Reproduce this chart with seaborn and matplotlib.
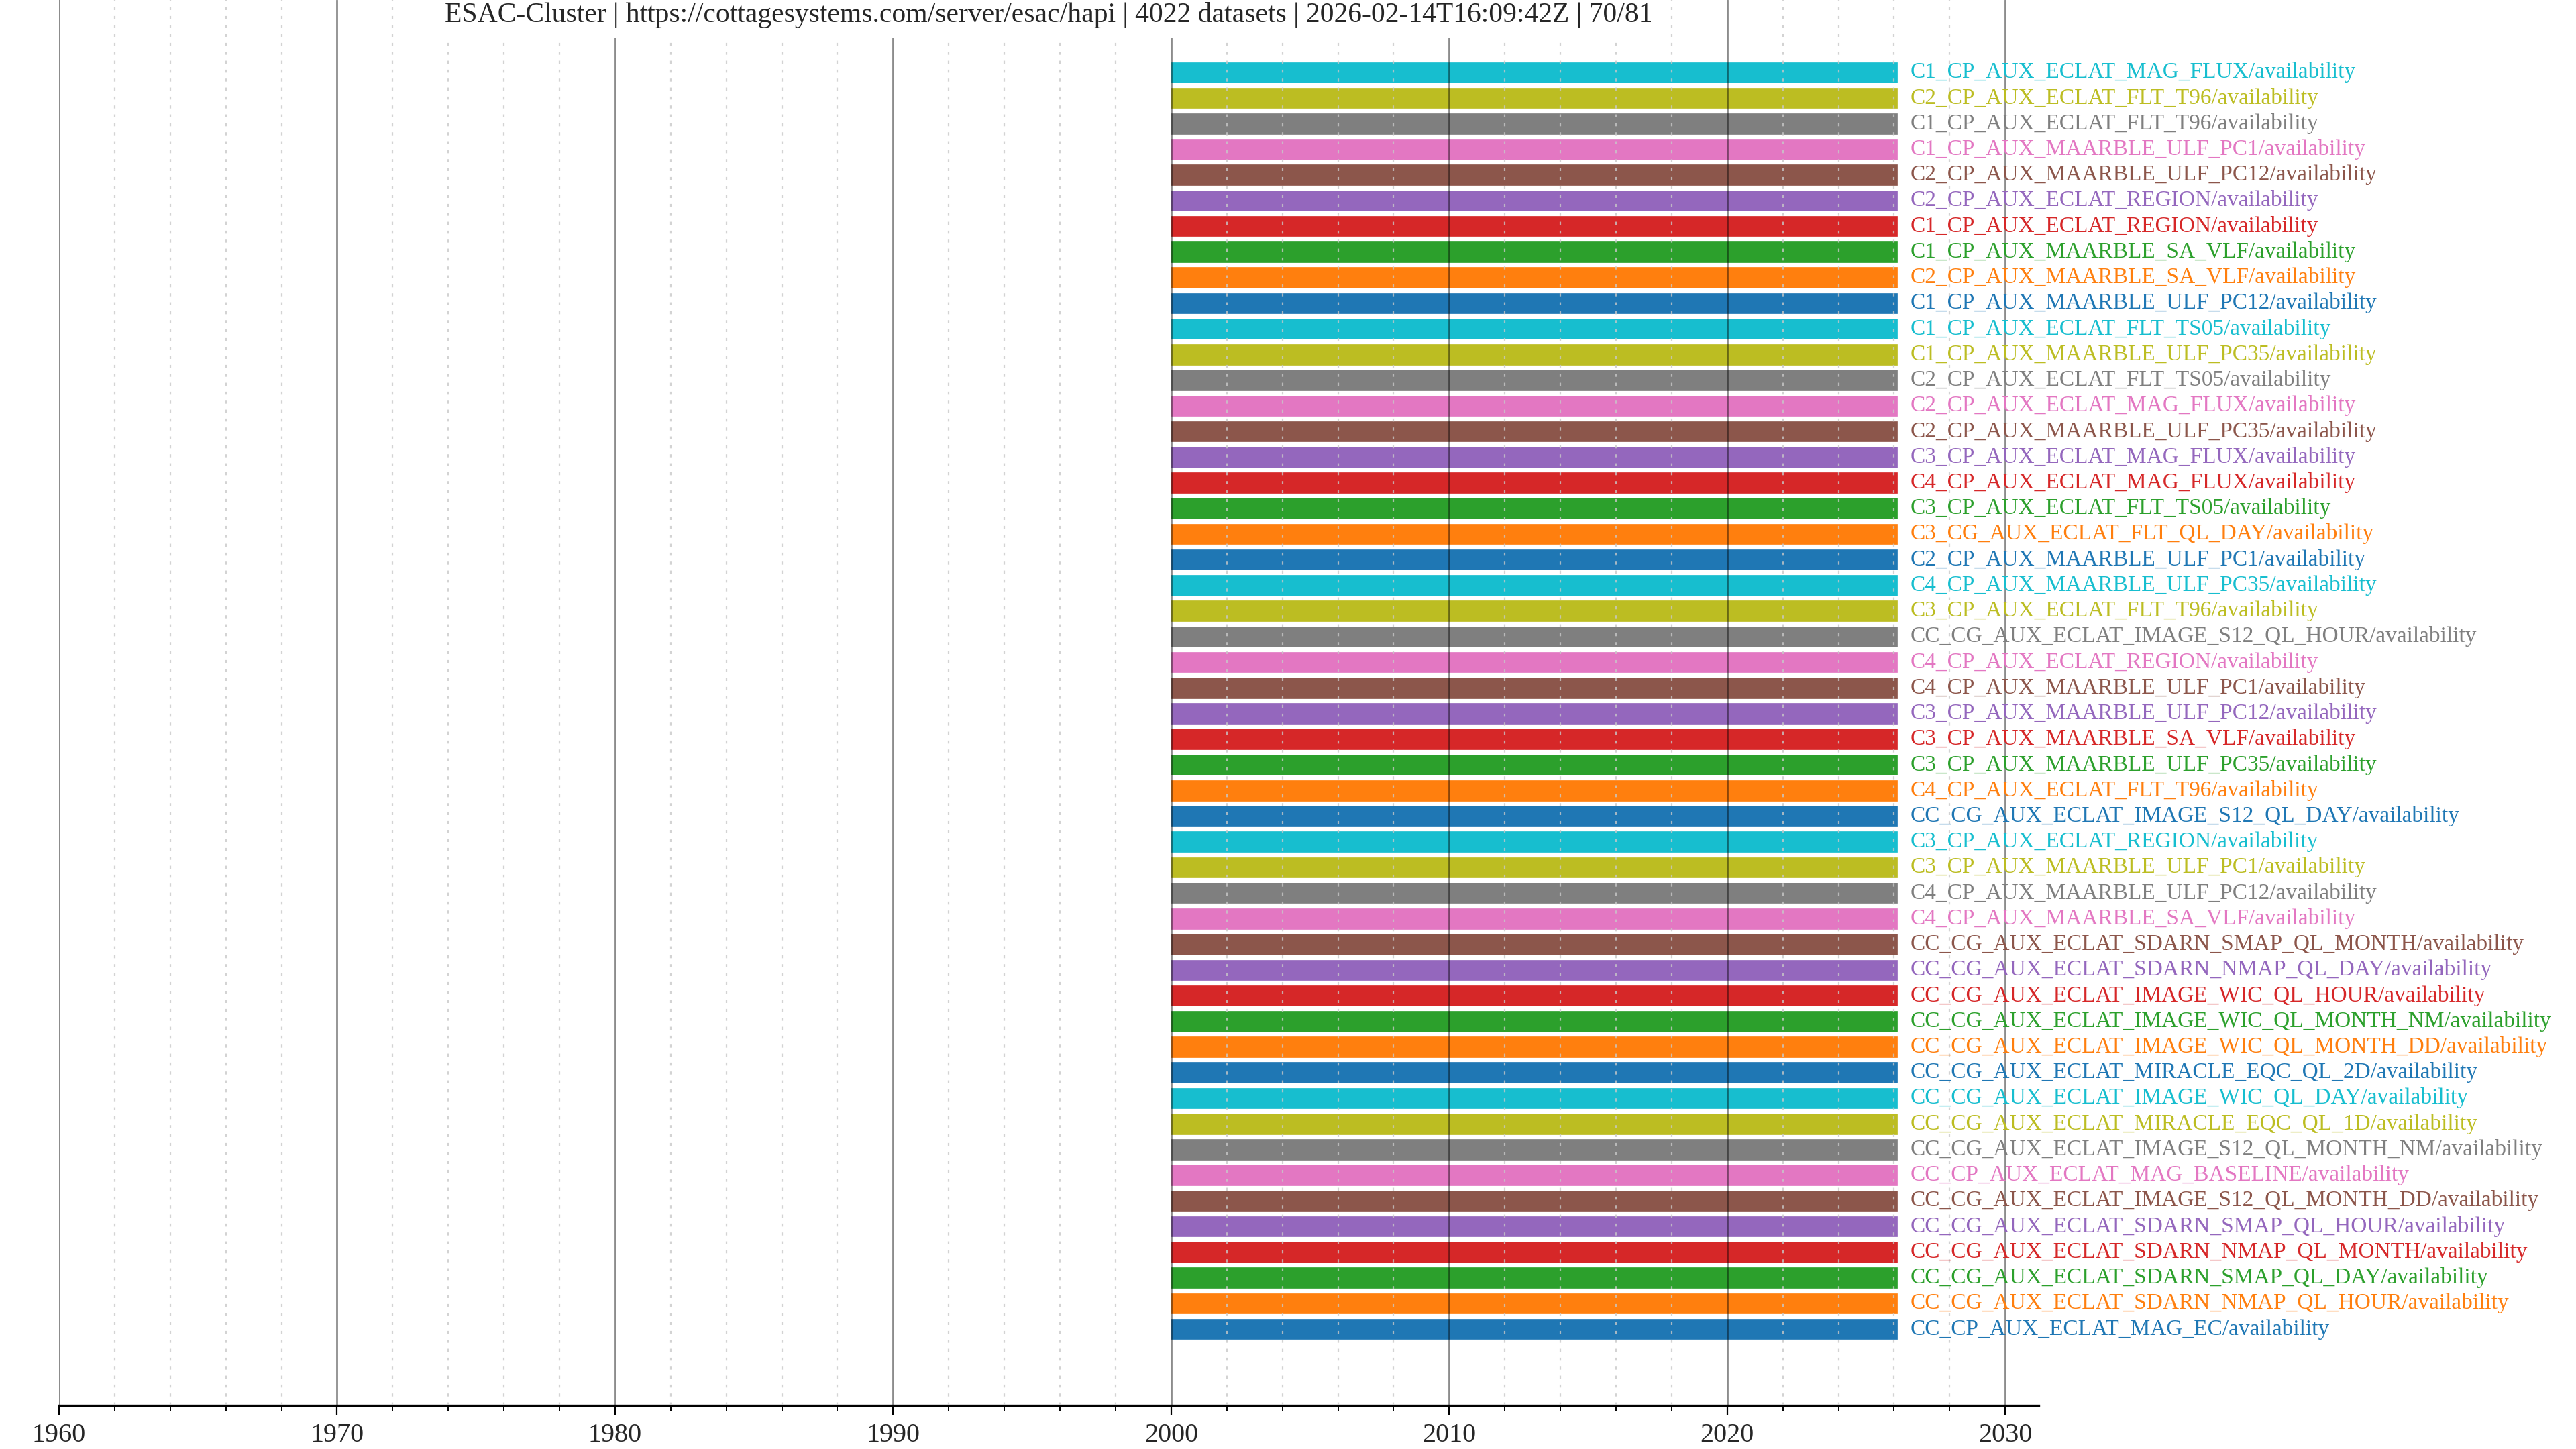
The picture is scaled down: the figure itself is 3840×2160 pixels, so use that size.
import datetime as dt
import matplotlib
matplotlib.use("Agg")
import matplotlib.pyplot as plt
from matplotlib.ticker import MultipleLocator
import seaborn as sns

# datasets, listed from the bottom bar upward (plot order)
datasets = [
    "CC_CP_AUX_ECLAT_MAG_EC",
    "CC_CG_AUX_ECLAT_SDARN_NMAP_QL_HOUR",
    "CC_CG_AUX_ECLAT_SDARN_SMAP_QL_DAY",
    "CC_CG_AUX_ECLAT_SDARN_NMAP_QL_MONTH",
    "CC_CG_AUX_ECLAT_SDARN_SMAP_QL_HOUR",
    "CC_CG_AUX_ECLAT_IMAGE_S12_QL_MONTH_DD",
    "CC_CP_AUX_ECLAT_MAG_BASELINE",
    "CC_CG_AUX_ECLAT_IMAGE_S12_QL_MONTH_NM",
    "CC_CG_AUX_ECLAT_MIRACLE_EQC_QL_1D",
    "CC_CG_AUX_ECLAT_IMAGE_WIC_QL_DAY",
    "CC_CG_AUX_ECLAT_MIRACLE_EQC_QL_2D",
    "CC_CG_AUX_ECLAT_IMAGE_WIC_QL_MONTH_DD",
    "CC_CG_AUX_ECLAT_IMAGE_WIC_QL_MONTH_NM",
    "CC_CG_AUX_ECLAT_IMAGE_WIC_QL_HOUR",
    "CC_CG_AUX_ECLAT_SDARN_NMAP_QL_DAY",
    "CC_CG_AUX_ECLAT_SDARN_SMAP_QL_MONTH",
    "C4_CP_AUX_MAARBLE_SA_VLF",
    "C4_CP_AUX_MAARBLE_ULF_PC12",
    "C3_CP_AUX_MAARBLE_ULF_PC1",
    "C3_CP_AUX_ECLAT_REGION",
    "CC_CG_AUX_ECLAT_IMAGE_S12_QL_DAY",
    "C4_CP_AUX_ECLAT_FLT_T96",
    "C3_CP_AUX_MAARBLE_ULF_PC35",
    "C3_CP_AUX_MAARBLE_SA_VLF",
    "C3_CP_AUX_MAARBLE_ULF_PC12",
    "C4_CP_AUX_MAARBLE_ULF_PC1",
    "C4_CP_AUX_ECLAT_REGION",
    "CC_CG_AUX_ECLAT_IMAGE_S12_QL_HOUR",
    "C3_CP_AUX_ECLAT_FLT_T96",
    "C4_CP_AUX_MAARBLE_ULF_PC35",
    "C2_CP_AUX_MAARBLE_ULF_PC1",
    "C3_CG_AUX_ECLAT_FLT_QL_DAY",
    "C3_CP_AUX_ECLAT_FLT_TS05",
    "C4_CP_AUX_ECLAT_MAG_FLUX",
    "C3_CP_AUX_ECLAT_MAG_FLUX",
    "C2_CP_AUX_MAARBLE_ULF_PC35",
    "C2_CP_AUX_ECLAT_MAG_FLUX",
    "C2_CP_AUX_ECLAT_FLT_TS05",
    "C1_CP_AUX_MAARBLE_ULF_PC35",
    "C1_CP_AUX_ECLAT_FLT_TS05",
    "C1_CP_AUX_MAARBLE_ULF_PC12",
    "C2_CP_AUX_MAARBLE_SA_VLF",
    "C1_CP_AUX_MAARBLE_SA_VLF",
    "C1_CP_AUX_ECLAT_REGION",
    "C2_CP_AUX_ECLAT_REGION",
    "C2_CP_AUX_MAARBLE_ULF_PC12",
    "C1_CP_AUX_MAARBLE_ULF_PC1",
    "C1_CP_AUX_ECLAT_FLT_T96",
    "C2_CP_AUX_ECLAT_FLT_T96",
    "C1_CP_AUX_ECLAT_MAG_FLUX",
]
parameter = "availability"
start_dates = ["2000-01-01"] * len(datasets)
stop_dates = ["2026-02-14"] * len(datasets)

title = ("ESAC-Cluster | https://cottagesystems.com/server/esac/hapi | "
         "4022 datasets | 2026-02-14T16:09:42Z | 70/81")


def decimal_year(s):
    d = dt.date.fromisoformat(s)
    y0 = dt.date(d.year, 1, 1)
    n = (dt.date(d.year + 1, 1, 1) - y0).days
    return d.year + (d - y0).days / n


starts = [decimal_year(s) for s in start_dates]
stops = [decimal_year(s) for s in stop_dates]

sns.set_theme(style="white")
plt.rcParams["font.family"] = ["Liberation Serif", "DejaVu Serif"]
colors = sns.color_palette("tab10", 10)

fig = plt.figure(figsize=(38.4, 21.6), dpi=100)
ax = fig.add_axes([0.0229, 0.0301, 0.7685, 0.9699])

for i, name in enumerate(datasets):
    c = colors[i % 10]
    ax.barh(i, stops[i] - starts[i], left=starts[i], height=0.8,
            color=c, edgecolor=c, linewidth=0.5, zorder=1)
    ax.annotate(f"{name}/{parameter}", xy=(stops[i], i), xytext=(14, 0),
                textcoords="offset points", va="center", ha="left",
                color=c, fontsize=24, annotation_clip=False)

ax.set_xlim(1960, 2031.2)
ax.set_ylim(-2.98, len(datasets) - 1 + 2.82)

ax.xaxis.set_major_locator(MultipleLocator(10))
ax.xaxis.set_minor_locator(MultipleLocator(2))
ax.set_axisbelow(False)
ax.grid(True, which="major", axis="x", color="black", alpha=0.45,
        linewidth=2.0, zorder=3)
ax.grid(True, which="minor", axis="x", color="#c8c8c8", alpha=0.8,
        linewidth=1.6, linestyle=(0, (2, 4)), zorder=3)
ax.grid(False, axis="y")
ax.set_yticks([])

sns.despine(ax=ax, left=True, top=True, right=True)
ax.spines["bottom"].set_linewidth(2.4)
ax.spines["bottom"].set_color("black")
ax.tick_params(axis="x", which="major", length=11, width=1.6,
               labelsize=29, color="black", bottom=True, pad=8)
ax.tick_params(axis="x", which="minor", length=6, width=1.4,
               color="black", bottom=True)

fig.text(0.4071, 1 - 3 / 2160, title, ha="center", va="top", fontsize=30,
         bbox=dict(facecolor="white", edgecolor="none", pad=10), zorder=10)

fig.savefig("out.png", dpi=100)
